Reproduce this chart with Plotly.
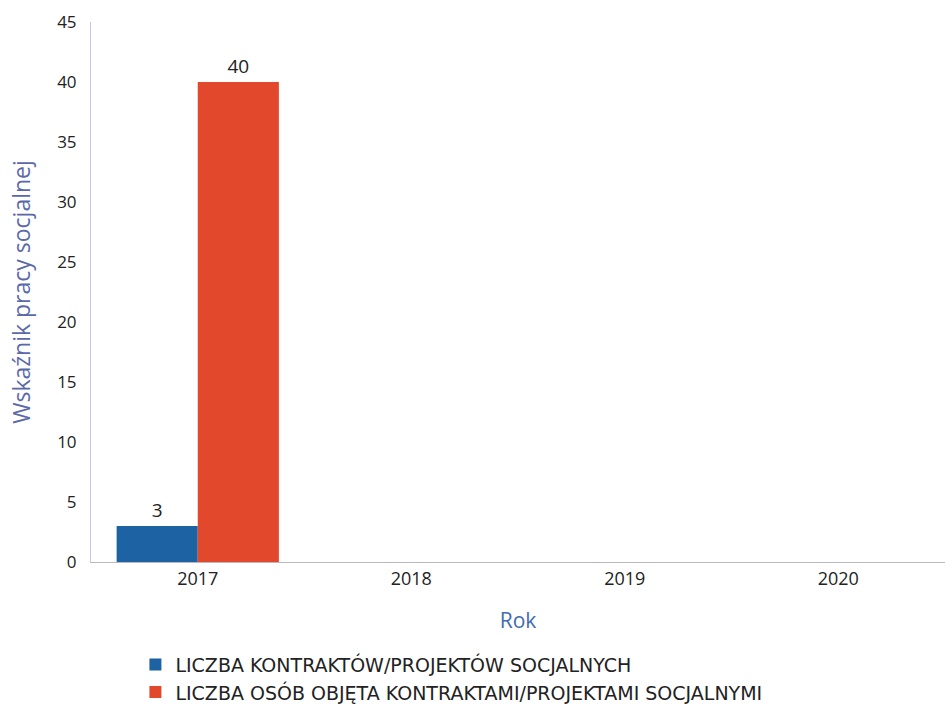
import plotly.graph_objects as go

years = ["2017", "2018", "2019", "2020"]
kontrakty = [3, 0, 0, 0]
osoby = [40, 0, 0, 0]
kontrakty_labels = ["3", "", "", ""]
osoby_labels = ["40", "", "", ""]
series_names = ["LICZBA KONTRAKTÓW/PROJEKTÓW SOCJALNYCH",
                "LICZBA OSÓB OBJĘTA KONTRAKTAMI/PROJEKTAMI SOCJALNYMI"]

fig = go.Figure()
fig.add_trace(go.Bar(x=years, y=kontrakty, name=series_names[0],
                     marker=dict(color="#1d63a3", line=dict(width=0)),
                     text=kontrakty_labels, textposition="outside",
                     textfont=dict(size=19, color="#222"), cliponaxis=False))
fig.add_trace(go.Bar(x=years, y=osoby, name=series_names[1],
                     marker=dict(color="#e2482c", line=dict(width=0)),
                     text=osoby_labels, textposition="outside",
                     textfont=dict(size=19, color="#222"), cliponaxis=False))

fig.update_layout(
    width=947, height=704,
    margin=dict(l=91, r=2, t=22, b=142, autoexpand=False),
    paper_bgcolor="white", plot_bgcolor="white",
    barmode="group", bargap=0.24, bargroupgap=0,
    font=dict(family="Open Sans, sans-serif", color="#222"),
    showlegend=True,
    legend=dict(x=0.052, y=0.083, yref="container", xanchor="left", yanchor="top",
                font=dict(size=19, color="#222", family="DejaVu Sans, sans-serif"),
                tracegroupgap=0, bgcolor="rgba(0,0,0,0)"),
    xaxis=dict(showline=True, linecolor="#b8b8c0", linewidth=1,
               ticks="", tickfont=dict(size=18, color="#222"),
               title=dict(text="Rok", font=dict(size=21, color="#3f6cb0"), standoff=24),
               showgrid=False),
    yaxis=dict(range=[0, 45], dtick=5, showline=True, linecolor="#c9c4e8",
               linewidth=1, showgrid=False, zeroline=False, ticks="",
               ticklabelstandoff=10,
               tickfont=dict(size=17, color="#222"),
               title=dict(text="Wskaźnik pracy socjalnej",
                          font=dict(size=23, color="#5a6aa8"), standoff=20)),
)

fig.write_html("out.html", config={"displayModeBar": False},
               post_script="document.body.style.margin='0';")
